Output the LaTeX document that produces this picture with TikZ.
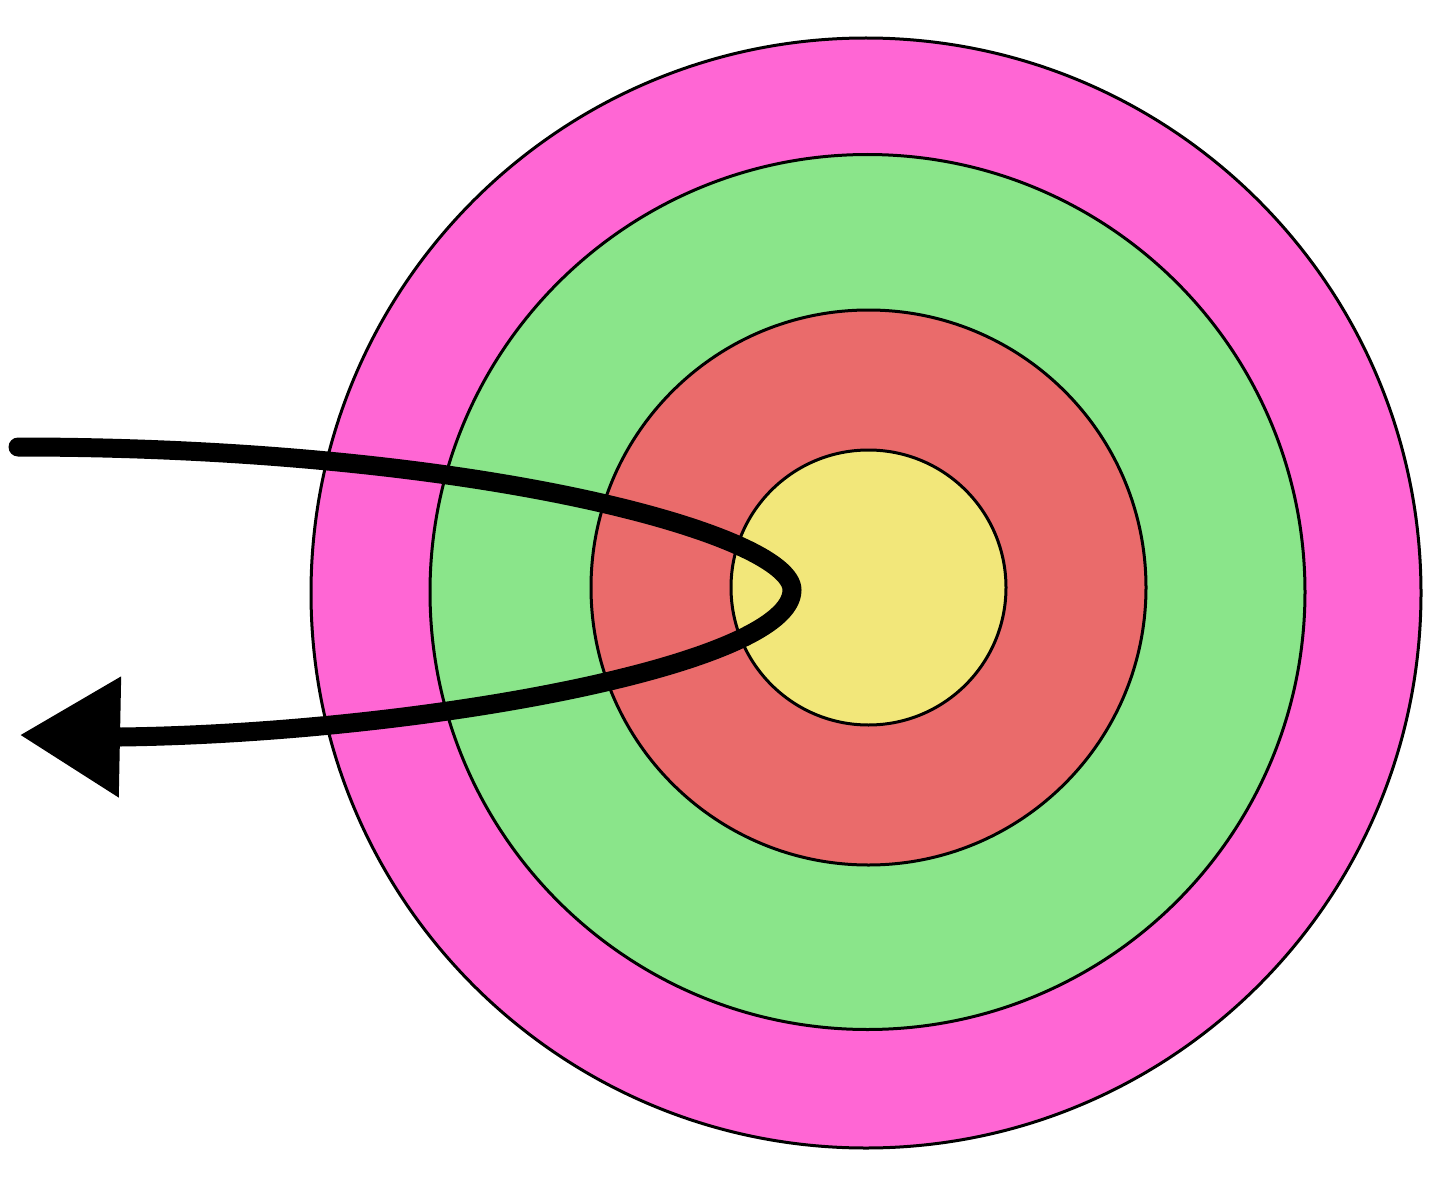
\documentclass[tikz,border=0pt]{standalone}
\usetikzlibrary{arrows.meta}
\definecolor{ringpink}{HTML}{FF66D4}
\definecolor{ringgreen}{HTML}{8AE58A}
\definecolor{ringred}{HTML}{EA6B6B}
\definecolor{ringyellow}{HTML}{F2E77A}
\begin{document}
\begin{tikzpicture}[x=0.5pt,y=-0.5pt,
  ring/.style={draw=black,line width=1.5pt},
  path arrow/.style={line width=9.5pt,line cap=round,-{Triangle[length=50pt,width=58pt,line cap=butt]}}]
\useasboundingbox (0,0) rectangle (1452,1188);
\fill[white] (0,0) rectangle (1452,1188);
\draw[ring,fill=ringpink] (866,593) circle[radius=277.5pt];
\draw[ring,fill=ringgreen] (867.5,592) circle[radius=218.75pt];
\draw[ring,fill=ringred] (868.5,587.5) circle[radius=138.75pt];
\draw[ring,fill=ringyellow] (868.5,587.5) circle[radius=68.75pt];
\coordinate (start) at (18,447);
\coordinate (turn) at (792,590);
\coordinate (tip) at (20,735);
\draw[path arrow] (start) .. controls (480,447) and (792,535) .. (turn)
  .. controls (792,665) and (420,733) .. (121,737) -- (tip);
\end{tikzpicture}
\end{document}
